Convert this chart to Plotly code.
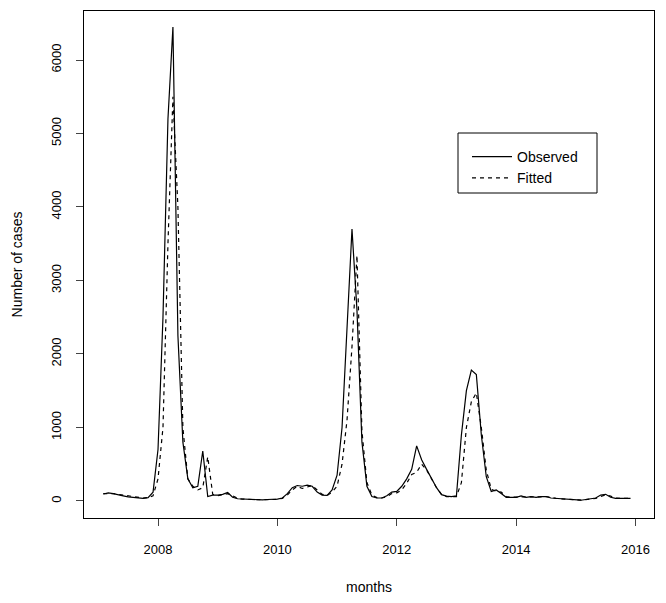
import numpy as np
import pandas as pd
import plotly.graph_objects as go

# Serie mensual: feb 2007 - dic 2015
months = pd.period_range("2007-02", "2015-12", freq="M")
t = months.year + (months.month - 1) / 12.0

observed = [
    95, 110, 100, 80, 70, 55, 45, 40, 35, 45, 120,              # 2007
    700, 2500, 5200, 6450, 2250, 800, 300, 180, 200, 680, 60, 80,  # 2008
    80, 90, 115, 50, 30, 25, 20, 15, 15, 15, 20, 20,            # 2009
    25, 40, 100, 180, 210, 200, 215, 200, 120, 80, 75, 150,     # 2010
    350, 1000, 2300, 3700, 2600, 800, 200, 60, 40, 40, 70, 120,  # 2011
    130, 200, 300, 430, 750, 560, 430, 300, 180, 85, 65, 60,    # 2012
    70, 900, 1500, 1780, 1720, 900, 330, 130, 150, 100, 50, 50,  # 2013
    50, 70, 50, 60, 50, 60, 60, 40, 35, 30, 25, 15,             # 2014
    10, 10, 20, 25, 40, 80, 90, 50, 35, 35, 35, 35,             # 2015
]

fitted = [
    100, 105, 100, 90, 80, 65, 55, 45, 40, 45, 70,
    300, 1000, 3500, 5500, 4000, 1000, 300, 200, 150, 180, 600, 90,
    70, 80, 100, 70, 35, 25, 20, 15, 15, 15, 18, 20,
    22, 35, 80, 150, 200, 170, 190, 210, 150, 90, 75, 120,
    200, 500, 1100, 2100, 3340, 950, 250, 80, 45, 40, 55, 100,
    110, 150, 240, 360, 390, 500, 420, 300, 180, 90, 60, 60,
    60, 250, 1000, 1350, 1470, 1000, 420, 160, 130, 120, 60, 50,
    55, 60, 55, 55, 50, 55, 60, 45, 35, 30, 25, 18,
    12, 10, 18, 22, 35, 60, 85, 65, 40, 35, 35, 35,
]

x_ticks = [2008, 2010, 2012, 2014, 2016]
y_ticks = [0, 1000, 2000, 3000, 4000, 5000, 6000]

fig = go.Figure()
fig.add_trace(go.Scatter(x=t, y=observed, mode="lines", name="Observed",
                         line=dict(color="black", width=1.2)))
fig.add_trace(go.Scatter(x=t, y=fitted, mode="lines", name="Fitted",
                         line=dict(color="black", width=1.2, dash="4px,4px")))

# caja de la leyenda (estilo R); área del gráfico: 570 x 507 px
fig.add_shape(type="rect", xref="paper", yref="paper",
              x0=(458 - 84) / 570, x1=(597 - 84) / 570,
              y0=(518 - 193) / 507, y1=(518 - 133) / 507,
              line=dict(color="black", width=1), fillcolor="rgba(0,0,0,0)")

# la página tiene 8px de margen en el body
fig.update_layout(
    width=650, height=587,
    margin=dict(l=76, r=4, t=3, b=77),
    paper_bgcolor="white", plot_bgcolor="white",
    font=dict(family="Liberation Sans, Arial, sans-serif", size=13, color="black"),
    xaxis=dict(
        range=[2006.76, 2016.31], tickvals=x_ticks, ticks="outside", ticklen=7,
        ticklabelstandoff=12, automargin=False,
        showgrid=False, zeroline=False, showline=True, mirror=True,
        linecolor="black", linewidth=1,
        title=dict(text="months", standoff=28, font=dict(size=14)),
    ),
    yaxis=dict(
        range=[-232, 6667], tickvals=y_ticks, ticks="outside", ticklen=7,
        tickangle=-90, ticklabelstandoff=10, automargin=False,
        showgrid=False, zeroline=False, showline=True, mirror=True,
        linecolor="black", linewidth=1,
        title=dict(text="Number of cases", standoff=22, font=dict(size=14)),
    ),
    legend=dict(x=(467 - 84) / 570, y=(518 - 141) / 507, xanchor="left", yanchor="top",
                borderwidth=0, bgcolor="rgba(0,0,0,0)", itemwidth=40,
                font=dict(size=14), tracegroupgap=0),
    showlegend=True,
)

fig.write_html("out.html")
